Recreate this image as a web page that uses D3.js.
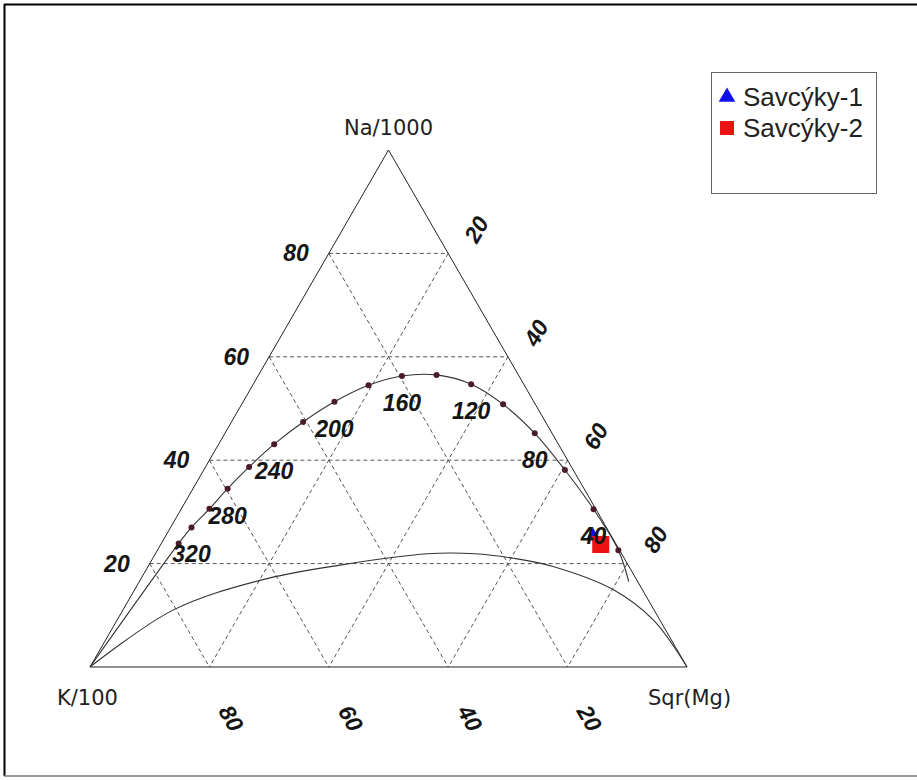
<!DOCTYPE html>
<html><head><meta charset="utf-8">
<script src="https://cdn.jsdelivr.net/npm/d3@7"></script>
<style>html,body{margin:0;padding:0;background:#fff;}svg{display:block;}</style>
</head><body>
<svg id="chart" width="917" height="780"></svg>
<script>
// ---- data ----
const vertexNames = ["Na/1000", "K/100", "Sqr(Mg)"];
const gridValues = [20, 40, 60, 80];
const naTickLabels = ["20", "40", "60", "80"];
const kTickLabels = ["20", "40", "60", "80"];
const mgTickLabels = ["20", "40", "60", "80"];
// full equilibrium curve (temperature points, °C) in ternary % (Na, Mg); K = 100 - Na - Mg
const temperatures = [340, 320, 300, 280, 260, 240, 220, 200, 180, 160, 140, 120, 100, 80, 60, 40, 20];
const eqNa = [23.9, 27.0, 30.6, 34.5, 38.7, 43.1, 47.4, 51.3, 54.5, 56.3, 56.5, 54.7, 50.8, 45.2, 38.1, 30.5, 22.6];
const eqMg = [2.9, 3.5, 4.7, 5.8, 7.3, 9.3, 12.0, 15.3, 19.4, 24.1, 29.8, 36.5, 43.8, 51.9, 60.5, 69.1, 77.2];
const labelledTemps = [320, 280, 240, 200, 160, 120, 80, 40];
// curve extensions beyond the temperature points
const eqStartNa = [0], eqStartMg = [0];
const eqEndNa = [16.5], eqEndMg = [82.0];
// partial equilibrium (immature waters) curve
const peNa = [0, 11.0, 16.8, 19.7, 21.9, 21.9, 21.0, 19.4, 14.9, 9.1, 0];
const peMg = [0, 8.4, 20.2, 32.0, 45.6, 53.5, 60.6, 68.0, 80.3, 89.8, 100];
// samples
const sampleNames = ["Savcýky-1", "Savcýky-2"];
const sampleNa = [25.5, 23.7];
const sampleMg = [71.5, 73.7];
const sampleColors = ["#1010ee", "#ee1111"];
const sampleShapes = ["triangle", "square"];

// ---- drawing ----
const svg = d3.select("#chart");
const xs = d3.scaleLinear().domain([0, 100]).range([90, 687]);
const ys = d3.scaleLinear().domain([0, 100]).range([667, 150]);
const P = (na, mg) => [xs(mg + na / 2), ys(na)];

// outer frame
svg.append("line").attr("x1", 4).attr("y1", 4.5).attr("x2", 917).attr("y2", 4.5).attr("stroke", "#000").attr("stroke-width", 2);
svg.append("line").attr("x1", 4.5).attr("y1", 4).attr("x2", 4.5).attr("y2", 776).attr("stroke", "#000").attr("stroke-width", 2);
svg.append("line").attr("x1", 4).attr("y1", 776).attr("x2", 917).attr("y2", 776).attr("stroke", "#777").attr("stroke-width", 1.5);

const line = d3.line();
const gridG = svg.append("g").attr("stroke", "#555").attr("stroke-width", 1).attr("stroke-dasharray", "4,3").attr("fill", "none");
gridValues.forEach(v => {
  gridG.append("path").attr("d", line([P(v, 0), P(v, 100 - v)]));
  gridG.append("path").attr("d", line([P(100 - v, 0), P(0, 100 - v)]));
  gridG.append("path").attr("d", line([P(100 - v, v), P(0, v)]));
});

// triangle
svg.append("path").attr("d", line([P(100, 0), P(0, 0), P(0, 100)]) + "Z")
  .attr("fill", "none").attr("stroke", "#222").attr("stroke-width", 1);

// curves
const eqPts = [];
eqStartNa.forEach((n, i) => eqPts.push(P(n, eqStartMg[i])));
eqNa.forEach((n, i) => eqPts.push(P(n, eqMg[i])));
eqEndNa.forEach((n, i) => eqPts.push(P(n, eqEndMg[i])));
svg.append("path").attr("d", d3.line().curve(d3.curveCatmullRom)(eqPts))
  .attr("fill", "none").attr("stroke", "#333").attr("stroke-width", 1.1);
const pePts = peNa.map((n, i) => P(n, peMg[i]));
svg.append("path").attr("d", d3.line().curve(d3.curveCatmullRom)(pePts))
  .attr("fill", "none").attr("stroke", "#333").attr("stroke-width", 1.1);

// temperature dots
svg.append("g").selectAll("circle").data(temperatures).join("circle")
  .attr("cx", (d, i) => P(eqNa[i], eqMg[i])[0])
  .attr("cy", (d, i) => P(eqNa[i], eqMg[i])[1])
  .attr("r", 3).attr("fill", "#4a1c28");

// samples
const sym = { triangle: d3.symbolTriangle, square: d3.symbolSquare };
const symSize = { triangle: 75, square: 290 };
svg.append("g").selectAll("path").data(sampleNames).join("path")
  .attr("transform", (d, i) => { const p = P(sampleNa[i], sampleMg[i]); return `translate(${p[0]},${p[1]})`; })
  .attr("d", (d, i) => d3.symbol().type(sym[sampleShapes[i]]).size(symSize[sampleShapes[i]])())
  .attr("fill", (d, i) => sampleColors[i]);

// temperature labels
const numFont = "'Liberation Sans', Arial, sans-serif";
svg.append("g").selectAll("text").data(labelledTemps).join("text")
  .attr("x", d => { const i = temperatures.indexOf(d); return P(eqNa[i], eqMg[i])[0]; })
  .attr("y", d => { const i = temperatures.indexOf(d); return P(eqNa[i], eqMg[i])[1] + 35; })
  .attr("text-anchor", "middle").attr("font-family", numFont).attr("font-size", 23)
  .attr("font-style", "italic").attr("font-weight", "bold").attr("fill", "#151515")
  .text(d => d);

// axis tick labels
const tl = svg.append("g").attr("font-family", numFont).attr("font-size", 23)
  .attr("font-style", "italic").attr("font-weight", "bold").attr("fill", "#151515");
gridValues.forEach((v, i) => {
  const pl = P(v, 0);
  tl.append("text").attr("x", pl[0] - 20).attr("y", pl[1] + 8).attr("text-anchor", "end").text(naTickLabels[i]);
  const pr = P(100 - v, v);
  tl.append("text").attr("transform", `translate(${pr[0] + 28},${pr[1] - 24}) rotate(-60)`)
    .attr("text-anchor", "middle").attr("dy", "0.36em").text(mgTickLabels[i]);
  const pb = P(0, 100 - v);
  tl.append("text").attr("transform", `translate(${pb[0] + 22},${pb[1] + 51}) rotate(60)`)
    .attr("text-anchor", "middle").attr("dy", "0.36em").text(kTickLabels[i]);
});

// vertex titles
const titleFont = "'DejaVu Sans', sans-serif";
const vt = svg.append("g").attr("font-family", titleFont).attr("font-size", 21).attr("fill", "#222");
const vTop = P(100, 0), vLeft = P(0, 0), vRight = P(0, 100);
vt.append("text").attr("x", vTop[0]).attr("y", vTop[1] - 15).attr("text-anchor", "middle").text(vertexNames[0]);
vt.append("text").attr("x", vLeft[0] - 33).attr("y", vLeft[1] + 38).attr("text-anchor", "start").text(vertexNames[1]);
vt.append("text").attr("x", vRight[0] - 39).attr("y", vRight[1] + 38).attr("text-anchor", "start").text(vertexNames[2]);

// legend
const lg = svg.append("g");
lg.append("rect").attr("x", 711.5).attr("y", 72.5).attr("width", 165).attr("height", 121)
  .attr("fill", "#fff").attr("stroke", "#666").attr("stroke-width", 1);
sampleNames.forEach((name, i) => {
  const cy = 97 + i * 31;
  lg.append("path").attr("transform", `translate(727,${cy})`)
    .attr("d", d3.symbol().type(sym[sampleShapes[i]]).size(sampleShapes[i] === "square" ? 196 : 120)())
    .attr("fill", sampleColors[i]);
  lg.append("text").attr("x", 743).attr("y", cy + 9).attr("font-family", "'Liberation Sans', Arial, sans-serif")
    .attr("font-size", 26).attr("fill", "#222").text(name);
});
</script>
</body></html>
